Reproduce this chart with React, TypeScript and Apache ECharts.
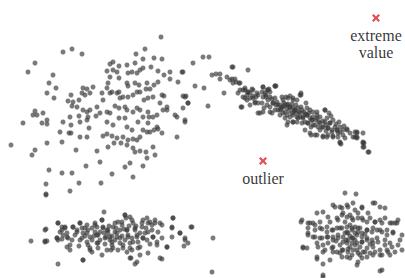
import React, { useEffect, useRef } from "react";
import * as echarts from "echarts";

// Points given in the picture's own coordinate units (x: 0-405 right, y: 0-278 down)
const clusterA: number[][] = [
  [161,37],[63,52],[72,49],[82,54],[145,49],[136,54],[35,63],[28,72],[154,58],[162,59],[193,63],
  [110,64],[113,62],[119,66],[127,65],[135,63],[143,59],[53,75],[49,83],[56,88],[47,93],[54,98],
  [107,71],[113,70],[117,72],[119,78],[128,73],[132,72],[137,73],[140,70],[143,68],[151,67],[158,71],
  [164,75],[170,72],[182,72],[170,79],[178,82],[195,86],[110,77],[108,83],[107,88],[127,83],[128,86],
  [135,83],[139,85],[147,83],[146,89],[150,89],[154,85],[158,82],[162,95],[164,96],[83,88],[87,89],
  [93,87],[82,93],[90,93],[85,95],[71,95],[79,100],[102,93],[103,100],[110,93],[112,92],[117,93],
  [119,92],[120,98],[123,97],[128,97],[133,95],[137,92],[140,92],[144,100],[148,98],[153,97],[160,103],
  [167,107],[183,96],[186,96],[188,103],[183,108],[185,120],[68,101],[72,106],[73,102],[77,107],
  [35,111],[33,115],[37,115],[43,113],[42,123],[47,120],[47,124],[23,123],[83,110],[87,112],[90,110],
  [88,117],[87,120],[96,116],[97,107],[100,113],[107,112],[110,113],[115,106],[119,108],[125,107],
  [127,110],[133,112],[137,108],[140,110],[143,117],[148,112],[149,117],[153,117],[157,115],[163,110],
  [167,110],[175,115],[177,117],[185,122],[70,117],[63,122],[71,125],[80,122],[79,116],[89,128],
  [107,122],[113,125],[119,118],[125,118],[127,127],[132,130],[138,122],[143,130],[148,123],[154,130],
  [158,129],[162,133],[150,132],[157,127],[60,132],[69,133],[71,133],[80,137],[87,137],[103,136],
  [107,134],[112,136],[117,138],[123,137],[128,140],[133,139],[137,140],[140,137],[147,132],[177,137],
  [11,145],[47,143],[62,142],[76,150],[97,151],[108,147],[114,143],[121,143],[127,145],[133,148],
  [135,152],[140,151],[146,152],[153,147],[155,155],[147,158],[35,150],[32,155],[49,170],[62,173],
  [72,173],[86,166],[100,162],[112,174],[125,167],[130,163],[143,166],[133,177],[46,184],[46,194],
  [70,191],[79,183],[101,183],[203,57],[209,57],[183,72],[185,97],[188,103],[204,88],[208,106]
];

const clusterB: number[][] = [
  [212,75],[216,74],[220,74],[220,79],[227,77],[232,79],[236,82],[240,83],[224,93],[241,107],
  [232,67],[248,70],[233,67],[230,80],[235,79],[239,83],[233,83],[245,88],[248,92],[253,90],[242,107],
  [275,86],[301,93],[263,87],[269,89],[266,95],[260,113],[245,90],[248,92],[252,89],[257,93],[262,92],
  [267,90],[270,92],[276,86],[263,97],[266,97],[243,97],[247,100],[250,98],[255,102],[258,103],[262,103],
  [258,113],[267,105],[270,107],[273,103],[277,102],[280,105],[283,100],[286,97],[290,96],[293,98],
  [297,100],[301,95],[306,103],[270,112],[275,110],[278,110],[282,107],[285,105],[287,108],[290,107],
  [293,108],[295,110],[298,108],[301,107],[304,112],[307,108],[310,110],[313,112],[317,112],[325,110],
  [280,115],[283,113],[287,115],[290,117],[293,115],[296,113],[300,117],[303,117],[307,115],[310,118],
  [313,117],[317,115],[320,117],[327,118],[331,116],[333,120],[339,122],[287,125],[293,122],[297,122],
  [302,123],[305,122],[308,123],[311,127],[315,125],[318,127],[322,127],[326,125],[328,128],[332,130],
  [335,127],[337,130],[340,132],[343,130],[347,130],[350,133],[357,132],[363,133],[311,135],[315,135],
  [323,136],[327,137],[333,136],[338,137],[345,138],[353,137],[357,138],[364,143],[341,144],[363,147],
  [369,152],[238,93],[240,90],[325,110],[329,113],[347,129],[340,143],[357,133],[355,137],[363,143],
  [364,147],[284,103],[288,104],[292,104],[296,105],[299,112],[302,110],[305,114],[309,113],[312,120],
  [316,120],[319,122],[323,121],[298,118],[294,111],[289,111],[285,118],[281,109],[276,105],[272,99],
  [268,100],[264,108],[253,96],[250,105],[256,97],[330,123],[336,124],[344,126],[320,130],[326,131],
  [243,90],[247,95],[245,98],[250,93],[253,98],[255,103],[258,95],[263,87],[265,93],[268,90],[270,97],
  [273,103],[275,98],[278,105],[280,110],[283,107],[287,105],[285,112],[290,107],[292,113],[295,110],
  [297,117],[288,122],[293,122],[300,113],[303,118],[307,115],[308,123],[312,120],[313,125],[317,118],
  [320,123],[323,127],[325,122],[328,128],[330,123],[332,132],[337,130],[340,127],[338,133],[343,135],
  [305,130],[310,133],[317,135],[323,137],[328,135],[333,137],[340,142],[355,132],[357,137],[363,142],
  [368,152],[300,95],[275,86],[282,97],[288,98],[293,100],[272,113],[263,112]
];

const clusterC: number[][] = [
  [46,195],[31,241],[46,229],[45,242],[47,241],[58,264],[83,260],[58,223],[57,238],[60,232],[62,227],
  [67,247],[70,250],[67,233],[72,240],[73,227],[77,230],[75,235],[80,223],[82,228],[80,240],[83,233],
  [87,225],[88,230],[90,237],[87,242],[90,250],[92,252],[95,223],[97,227],[95,232],[98,235],[100,240],
  [97,243],[98,248],[102,220],[104,212],[103,227],[107,230],[106,237],[108,233],[110,240],[112,245],
  [107,250],[102,255],[113,227],[115,232],[117,237],[115,240],[118,222],[122,225],[120,230],[120,243],
  [118,250],[125,215],[126,218],[130,217],[127,230],[128,235],[125,240],[130,243],[132,250],[131,258],
  [135,264],[133,223],[135,230],[137,237],[138,242],[140,247],[142,227],[143,220],[145,233],[147,240],
  [148,223],[150,222],[152,230],[153,237],[155,223],[157,242],[158,232],[162,225],[167,247],[162,259],
  [148,253],[140,255],[172,227],[173,218],[172,237],[180,233],[185,240],[188,243],[184,246],[191,227],
  [213,238],[212,272],[65,228],[63,235],[68,238],[58,240],[62,239],[92,228],[94,236],[100,232],
  [104,233],[109,226],[112,236],[116,228],[122,236],[124,229],[129,226],[132,238],[136,226],[140,233],
  [143,238],[146,228],[150,244],[105,244],[111,250],[123,248],[127,252],[85,236],[88,245],[79,246],
  [45,230],[45,241],[58,223],[57,238],[62,230],[65,227],[67,237],[70,245],[73,227],[77,232],[80,223],
  [82,238],[85,228],[87,233],[90,248],[92,240],[95,225],[97,235],[98,243],[102,220],[103,228],[105,238],
  [108,230],[110,237],[112,242],[113,248],[115,223],[117,233],[120,238],[122,222],[123,245],[125,215],
  [127,230],[128,237],[132,220],[130,248],[133,242],[135,228],[137,235],[138,248],[142,223],[143,238],
  [147,218],[148,232],[152,225],[153,237],[155,220],[157,245],[160,223],[162,238],[167,247],[172,228],
  [173,218],[180,233],[185,238],[192,227],[83,260],[130,258],[137,262],[160,258]
];

const clusterD: number[][] = [
  [345,193],[356,194],[333,205],[340,207],[347,205],[353,203],[362,207],[375,203],[380,207],[385,208],
  [317,213],[323,212],[343,213],[350,215],[358,213],[368,213],[301,222],[308,223],[313,223],[320,222],
  [330,222],[338,220],[345,222],[353,220],[362,218],[367,222],[375,222],[382,223],[390,223],[395,223],
  [398,220],[308,228],[315,230],[322,229],[327,232],[333,230],[340,228],[347,227],[352,228],[355,227],
  [360,228],[367,230],[373,228],[380,230],[387,230],[393,232],[308,233],[313,237],[320,238],[327,237],
  [333,237],[338,235],[343,237],[348,233],[352,238],[357,235],[362,237],[367,238],[372,240],[377,238],
  [385,240],[390,243],[400,240],[317,243],[323,245],[328,243],[333,247],[340,245],[347,243],[350,247],
  [355,245],[360,247],[367,248],[373,247],[380,250],[387,250],[395,252],[402,250],[303,248],[307,248],
  [323,252],[333,252],[340,253],[347,257],[352,255],[360,255],[367,257],[373,255],[380,255],[390,255],
  [317,259],[330,260],[357,265],[382,270],[323,277],[358,262],[345,233],[350,236],[355,240],[358,232],
  [362,242],[365,234],[346,240],[352,243],[357,250],[363,252],[370,244],[342,250],[336,241],[348,249],
  [335,207],[342,208],[348,207],[355,210],[362,208],[373,203],[328,217],[337,218],[342,215],[347,217],
  [352,218],[358,218],[363,220],[370,218],[375,222],[380,220],[385,218],[392,223],[397,223],[302,220],
  [310,223],[315,225],[320,228],[327,227],[332,230],[337,228],[342,228],[347,232],[350,225],[352,230],
  [355,233],[358,228],[362,233],[367,230],[372,232],[377,230],[382,232],[387,235],[393,233],[402,235],
  [308,235],[315,237],[322,238],[328,237],[333,240],[338,238],[343,242],[348,240],[353,238],[357,243],
  [362,242],[367,240],[373,243],[378,242],[385,245],[392,247],[398,245],[303,247],[318,247],[325,250],
  [332,248],[337,252],[343,250],[348,252],[353,250],[358,253],[365,252],[370,253],[375,252],[382,255],
  [388,252],[317,257],[342,257],[350,258],[362,258],[323,264],[380,271],[323,275]
];

const extremePoint: number[][] = [[376, 18]];
const outlierPoint: number[][] = [[263, 161]];

const X_SYMBOL =
  "path://M0,2L2,0L5,3L8,0L10,2L7,5L10,8L8,10L5,7L2,10L0,8L3,5Z";

export default function App() {
  const ref = useRef<HTMLDivElement>(null);
  useEffect(() => {
    document.body.style.margin = "0";
    if (!ref.current) return;
    const chart = echarts.init(ref.current, undefined, { renderer: "svg" });
    const dot = {
      type: "scatter" as const,
      symbolSize: 5,
      itemStyle: { color: "rgba(58,58,58,0.85)" },
      silent: true,
    };
    const labelStyle = {
      show: true,
      position: "bottom" as const,
      distance: 5,
      fontFamily: "'Liberation Serif', 'Times New Roman', serif",
      fontSize: 16,
      lineHeight: 17,
      color: "#000000",
      align: "center" as const,
    };
    chart.setOption({
      animation: false,
      grid: { left: 0, right: 0, top: 0, bottom: 0 },
      xAxis: { type: "value", min: 0, max: 405, show: false },
      yAxis: { type: "value", min: 0, max: 278, inverse: true, show: false },
      series: [
        { ...dot, data: clusterA },
        { ...dot, data: clusterB },
        { ...dot, data: clusterC },
        { ...dot, data: clusterD },
        {
          type: "scatter",
          data: extremePoint,
          symbol: X_SYMBOL,
          symbolSize: 8,
          itemStyle: { color: "#d7262b" },
          label: { ...labelStyle, formatter: "extreme\nvalue" },
        },
        {
          type: "scatter",
          data: outlierPoint,
          symbol: X_SYMBOL,
          symbolSize: 8,
          itemStyle: { color: "#d7262b" },
          label: { ...labelStyle, formatter: "outlier" },
        },
      ],
    });
    return () => chart.dispose();
  }, []);
  return <div ref={ref} style={{ width: 405, height: 278 }} />;
}
